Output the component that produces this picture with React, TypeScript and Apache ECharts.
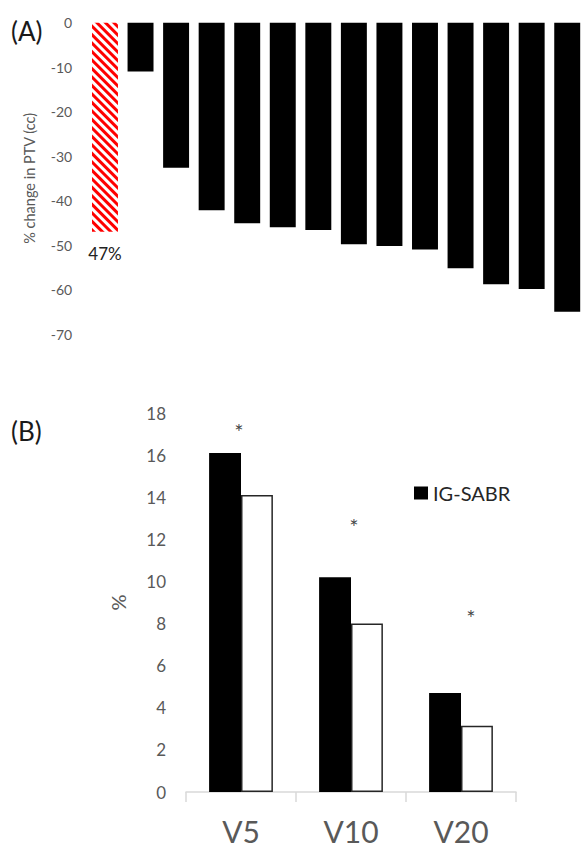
import React, { useEffect, useRef } from "react";
import * as echarts from "echarts";

// Panel A: % change in PTV per patient
const patientsA = ["1", "2", "3", "4", "5", "6", "7", "8", "9", "10", "11", "12", "13", "14"];
const ptvChange = [-47, -11, -32.6, -42.2, -45.1, -46, -46.6, -49.8, -50.2, -51, -55.2, -58.8, -59.9, -65];
const highlightLabel = "47%";
const ticksA = { min: -70, max: 0, interval: 10 };

// Panel B: dose-volume metrics
const metricsB = ["V5", "V10", "V20"];
const igSabr = [16.1, 10.2, 4.7];
const comparator = [14.1, 8.0, 3.15];
const significanceHeights = [17.1, 12.6, 8.3];
const ticksB = { min: 0, max: 18, interval: 2 };

const FONT = "Lato, 'Open Sans', sans-serif";
const GRAY = "#595959";

export default function App() {
  const ref = useRef<HTMLDivElement>(null);

  useEffect(() => {
    document.body.style.margin = "0";
    if (!ref.current) return;
    const chart = echarts.init(ref.current, undefined, { renderer: "svg" });

    const hatchDecal = {
      symbol: "rect",
      symbolSize: 1,
      dashArrayX: [1, 0],
      dashArrayY: [3, 3],
      rotation: Math.PI / 4,
      color: "#ff0000",
    };

    const dataA = ptvChange.map((v, i) =>
      i === 0
        ? {
            value: v,
            itemStyle: { color: "#ffffff", decal: hatchDecal },
            label: {
              show: true,
              position: "bottom",
              distance: 13,
              formatter: highlightLabel,
              fontSize: 17,
              fontFamily: FONT,
              color: "#222",
            },
          }
        : { value: v }
    );

    const starOffsets = [-2, 3, 10];

    chart.setOption({
      animation: false,
      textStyle: { fontFamily: FONT },
      graphic: [
        {
          type: "text",
          x: 11,
          y: 31,
          style: { text: "(A)", fontSize: 26, fontFamily: FONT, fill: "#1a1a1a", verticalAlign: "middle" },
        },
        {
          type: "text",
          x: 11,
          y: 431,
          style: { text: "(B)", fontSize: 26, fontFamily: FONT, fill: "#1a1a1a", verticalAlign: "middle" },
        },
      ],
      legend: {
        data: ["IG-SABR"],
        left: 409,
        top: 478,
        itemWidth: 14,
        itemHeight: 13,
        icon: "rect",
        textStyle: { fontSize: 20, color: "#262626", fontFamily: FONT },
      },
      grid: [
        { left: 87.2, width: 498, top: 22.7, height: 311.3 },
        { left: 186, width: 330, top: 413, height: 379 },
      ],
      xAxis: [
        {
          type: "category",
          gridIndex: 0,
          data: patientsA,
          position: "top",
          axisLine: { show: false },
          axisTick: { show: false },
          axisLabel: { show: false },
        },
        {
          type: "category",
          gridIndex: 1,
          data: metricsB,
          axisLine: { lineStyle: { color: "#d9d9d9", width: 1.5 } },
          axisTick: { show: true, length: 10, lineStyle: { color: "#d9d9d9", width: 1.5 } },
          axisLabel: { fontSize: 30, color: GRAY, margin: 24, fontFamily: FONT },
        },
      ],
      yAxis: [
        {
          type: "value",
          gridIndex: 0,
          min: ticksA.min,
          max: ticksA.max,
          interval: ticksA.interval,
          name: "% change in PTV (cc)",
          nameLocation: "middle",
          nameGap: 50,
          nameTextStyle: { fontSize: 14.5, color: GRAY, fontFamily: FONT },
          axisLine: { show: false },
          axisTick: { show: false },
          splitLine: { show: false },
          axisLabel: { fontSize: 14, color: GRAY, margin: 15, fontFamily: FONT },
        },
        {
          type: "value",
          gridIndex: 1,
          min: ticksB.min,
          max: ticksB.max,
          interval: ticksB.interval,
          name: "%",
          nameLocation: "middle",
          nameGap: 58,
          nameTextStyle: { fontSize: 20, color: GRAY, fontFamily: FONT },
          axisLine: { show: false },
          axisTick: { show: false },
          splitLine: { show: false },
          axisLabel: { fontSize: 17, color: GRAY, margin: 20, fontFamily: FONT },
        },
      ],
      series: [
        {
          name: "PTV change",
          type: "bar",
          xAxisIndex: 0,
          yAxisIndex: 0,
          data: dataA,
          barCategoryGap: "27%",
          itemStyle: { color: "#000000" },
        },
        {
          name: "IG-SABR",
          type: "bar",
          xAxisIndex: 1,
          yAxisIndex: 1,
          data: igSabr,
          barGap: "0%",
          barCategoryGap: "42%",
          itemStyle: { color: "#000000" },
        },
        {
          name: "Comparator",
          type: "bar",
          xAxisIndex: 1,
          yAxisIndex: 1,
          data: comparator,
          barGap: "0%",
          barCategoryGap: "42%",
          itemStyle: { color: "#ffffff", borderColor: "#262626", borderWidth: 1.5 },
        },
        {
          name: "significance",
          type: "scatter",
          xAxisIndex: 1,
          yAxisIndex: 1,
          symbolSize: 0,
          color: "#111111",
          itemStyle: { color: "#111111" },
          data: significanceHeights.map((v, i) => ({
            value: [metricsB[i], v],
            label: {
              show: true,
              position: "inside",
              formatter: "*",
              fontSize: 22,
              color: "#111111",
              fontFamily: FONT,
              offset: [starOffsets[i], 0],
            },
          })),
          label: {
            show: true,
            position: "inside",
            formatter: "*",
            fontSize: 22,
            color: "#111111",
            fontFamily: FONT,
          },
        },
      ],
    });

    return () => chart.dispose();
  }, []);

  return <div ref={ref} style={{ width: 585, height: 848 }} />;
}
